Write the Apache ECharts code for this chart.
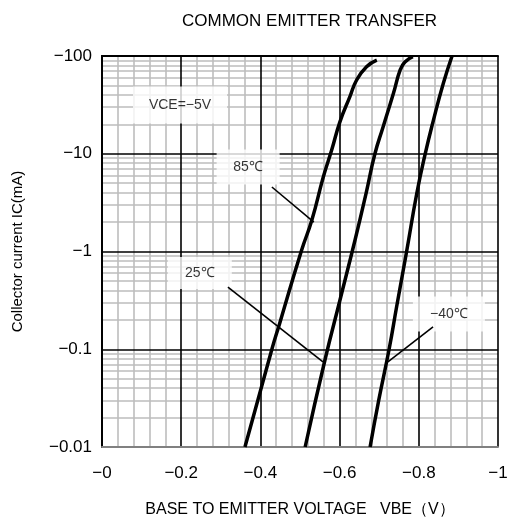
<!DOCTYPE html>
<html><head><meta charset="utf-8">
<script src="https://cdn.jsdelivr.net/npm/echarts@6/dist/echarts.min.js"></script>
<style>html,body{margin:0;padding:0;background:#fff}#c{width:507px;height:523px}</style>
</head><body><div id="c"></div>
<script>
// Values (as printed on the chart: negative)
const xTicks = [0, -0.2, -0.4, -0.6, -0.8, -1];
const yTicks = [-0.01, -0.1, -1, -10, -100];
const xMinorGrid = [-0.04,-0.08,-0.12,-0.16,-0.24,-0.28,-0.32,-0.36,-0.44,-0.48,-0.52,-0.56,-0.64,-0.68,-0.72,-0.76,-0.84,-0.88,-0.92,-0.96];
const yMinorMant = [2,3,4,5,6,7,8,9];
const yDecades = [-0.01, -0.1, -1, -10];

const vbe85 = [-0.361,-0.429,-0.449,-0.504,-0.530,-0.559,-0.580,-0.601,-0.626,-0.643,-0.668,-0.694];
const ic85  = [-0.01,-0.1,-0.186,-1.03,-2.10,-5.82,-10.9,-21.3,-38.4,-56.8,-77.8,-91.0];
const vbe25 = [-0.513,-0.563,-0.601,-0.639,-0.667,-0.689,-0.710,-0.736,-0.753,-0.765,-0.785];
const ic25  = [-0.01,-0.0776,-0.319,-1.31,-3.96,-9.93,-18.9,-41.5,-72.0,-86.9,-98.4];
const vbeM40 = [-0.677,-0.699,-0.725,-0.744,-0.769,-0.795,-0.816,-0.837,-0.862,-0.884];
const icM40  = [-0.01,-0.0303,-0.1,-0.272,-0.989,-3.94,-9.93,-22.1,-52.6,-100];

const annoText = ['VCE=−5V','85℃','25℃','−40℃'];
const annoVbe = [-0.197,-0.369,-0.247,-0.876];
const annoIc  = [-31.6,-7.31,-0.602,-0.2297];
const leaderFrom = [[-0.429,-4.57],[-0.318,-0.433],[-0.836,-0.169]];
const leaderTo   = [[-0.535,-2.0],[-0.558,-0.0741],[-0.722,-0.0741]];

const FONT = '"Liberation Sans", Arial, sans-serif';
const pt = (v, i) => [-v, -i];
const minorLines = [];
xMinorGrid.forEach(x => minorLines.push({coords: [pt(x, -0.01), pt(x, -100)]}));
yDecades.forEach(d => yMinorMant.forEach(m => {
  const y = d * m;
  minorLines.push({coords: [pt(0, y), pt(-1, y)]});
}));
const boxSizes = [[94,37],[63,35],[64,32],[72,35]];

const chart = echarts.init(document.getElementById('c'));
chart.setOption({
  animation: false,
  backgroundColor: '#fff',
  title: {
    text: 'COMMON EMITTER TRANSFER', left: 177, top: 8,
    textStyle: {fontFamily: FONT, fontSize: 17, fontWeight: 'normal', color: '#000'}
  },
  grid: {left: 102, right: 9, top: 56, bottom: 76, containLabel: false, outerBoundsMode: 'none'},
  xAxis: [{
    type: 'value', min: 0, max: 1, interval: 0.2, position: 'bottom', z: 2,
    axisLine: {show: true, lineStyle: {color: '#808080', width: 2}},
    axisTick: {show: false},
    axisLabel: {fontFamily: FONT, fontSize: 17, color: '#000', margin: 18,
      formatter: v => '−' + String(+v.toFixed(2))},
    splitLine: {show: true, lineStyle: {color: '#000', width: 1.6}},
    name: 'BASE TO EMITTER VOLTAGE   VBE（V）', nameLocation: 'middle', nameGap: 55,
    nameTextStyle: {fontFamily: FONT, fontSize: 16, color: '#000'}
  }, {
    type: 'value', min: 0, max: 1, position: 'top', z: 2,
    axisLine: {show: true, lineStyle: {color: '#000', width: 2}},
    axisTick: {show: false}, axisLabel: {show: false}, splitLine: {show: false}
  }],
  yAxis: [{
    type: 'log', logBase: 10, min: -yTicks[0], max: -yTicks[yTicks.length-1], z: 1,
    axisLine: {show: true, lineStyle: {color: '#000', width: 2}},
    axisTick: {show: false},
    axisLabel: {fontFamily: FONT, fontSize: 17, color: '#000', margin: 10,
      formatter: v => '−' + String(+(+v).toPrecision(6))},
    splitLine: {show: true, lineStyle: {color: '#000', width: 1.6}},
    minorSplitLine: {show: false},
    name: 'Collector current IC(mA)', nameLocation: 'middle', nameGap: 77, nameRotate: 90,
    nameTextStyle: {fontFamily: FONT, fontSize: 15, color: '#000'}
  }, {
    type: 'log', logBase: 10, min: 0.01, max: 100, position: 'right', z: 2,
    axisLine: {show: true, lineStyle: {color: '#000', width: 2}},
    axisTick: {show: false}, axisLabel: {show: false}, splitLine: {show: false}
  }],
  series: [
    {type: 'lines', coordinateSystem: 'cartesian2d', z: 0, silent: true,
     lineStyle: {color: '#bdbdbd', width: 1.6, opacity: 1}, data: minorLines},
    {type: 'scatter', z: 4, symbolSize: 0, silent: true,
     data: annoText.map((t, i) => ({name: t, value: pt(annoVbe[i], annoIc[i]),
       label: {width: boxSizes[i][0], height: boxSizes[i][1]}})),
     label: {show: true, position: 'inside', formatter: p => p.name,
       backgroundColor: '#fff', align: 'center', verticalAlign: 'middle',
       fontFamily: FONT, fontSize: 14, color: '#000'}},
    {type: 'lines', coordinateSystem: 'cartesian2d', z: 5, silent: true,
     lineStyle: {color: '#000', width: 1.6, opacity: 1},
     data: leaderFrom.map((f, i) => ({coords: [pt(f[0], f[1]), pt(leaderTo[i][0], leaderTo[i][1])]}))},
    ...[[vbe85, ic85], [vbe25, ic25], [vbeM40, icM40]].map(([vs, is]) => ({
      type: 'line', z: 6, smooth: 0.5, showSymbol: false, symbol: 'none', silent: true,
      lineStyle: {color: '#000', width: 3.5},
      data: vs.map((v, i) => pt(v, is[i]))
    }))
  ]
});
</script></body></html>
